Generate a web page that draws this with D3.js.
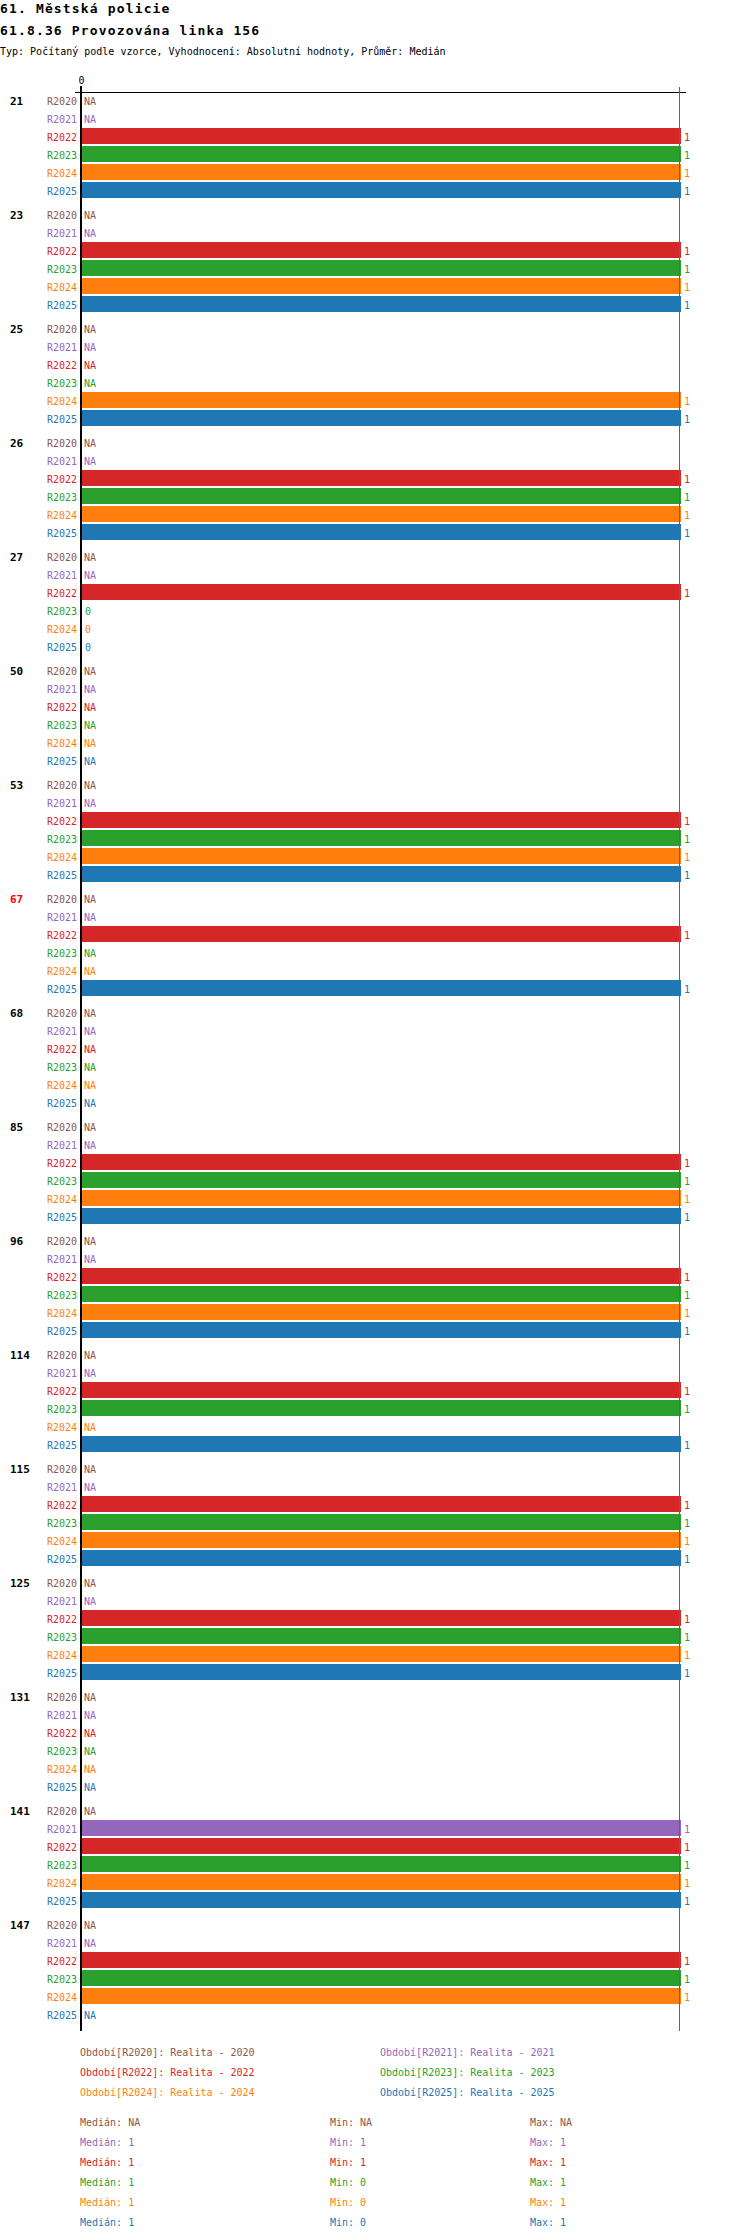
<!DOCTYPE html>
<html>
<head>
<meta charset="utf-8">
<script src="https://cdn.jsdelivr.net/npm/d3@7"></script>
<style>
  body { margin: 0; background: #fff; }
  text { font-family: "DejaVu Sans Mono", "Liberation Mono", monospace; }
  line, rect { shape-rendering: crispEdges; }
</style>
</head>
<body>
<div id="chart"></div>
<script>
// Provozována linka 156 — hodnoty po skupinách a obdobích

const skupiny = ['21', '23', '25', '26', '27', '50', '53', '67', '68', '85', '96', '114', '115', '125', '131', '141', '147'];
const zvyraznene = ['67'];

const obdobi = ['R2020', 'R2021', 'R2022', 'R2023', 'R2024', 'R2025'];
const nazvyObdobi = ['Realita - 2020', 'Realita - 2021', 'Realita - 2022', 'Realita - 2023', 'Realita - 2024', 'Realita - 2025'];
const barvy = ['#8c564b', '#9467bd', '#d62728', '#2ca02c', '#ff7f0e', '#1f77b4'];

// null = NA, pořadí jako skupiny
const R2020 = [null, null, null, null, null, null, null, null, null, null, null, null, null, null, null, null, null];
const R2021 = [null, null, null, null, null, null, null, null, null, null, null, null, null, null, null, 1, null];
const R2022 = [1, 1, null, 1, 1, null, 1, 1, null, 1, 1, 1, 1, 1, null, 1, 1];
const R2023 = [1, 1, null, 1, 0, null, 1, null, null, 1, 1, 1, 1, 1, null, 1, 1];
const R2024 = [1, 1, 1, 1, 0, null, 1, null, null, 1, 1, null, 1, 1, null, 1, 1];
const R2025 = [1, 1, 1, 1, 0, null, 1, 1, null, 1, 1, 1, 1, 1, null, 1, null];
const hodnoty = [R2020, R2021, R2022, R2023, R2024, R2025];

const tickHodnoty = [0];

const W = 750, H = 2240;
const svg = d3.select('#chart').append('svg')
    .attr('width', W)
    .attr('height', H);

// nadpisy
svg.append('text').attr('x', 0).attr('y', 12.5)
    .attr('font-size', '13px').attr('font-weight', 'bold').attr('letter-spacing', '1.15px')
    .text('61. Městská policie');
svg.append('text').attr('x', 0).attr('y', 35)
    .attr('font-size', '13px').attr('font-weight', 'bold').attr('letter-spacing', '1.15px')
    .text('61.8.36 Provozována linka 156');
svg.append('text').attr('x', 0).attr('y', 55)
    .attr('font-size', '10px')
    .text('Typ: Počítaný podle vzorce, Vyhodnocení: Absolutní hodnoty, Průměr: Medián');

// škály
const maxHodnota = d3.max(hodnoty.flat()) || 1;
const x = d3.scaleLinear().domain([0, maxHodnota]).range([81, 680]);
const yTop = 91, krokSkupiny = 114;
const yGroup = d3.scaleBand().domain(skupiny).range([yTop, yTop + skupiny.length * krokSkupiny]);
const yRow = d3.scaleBand().domain(obdobi).range([0, 108]).paddingInner(2 / 18).paddingOuter(1 / 18);
const barva = d3.scaleOrdinal().domain(obdobi).range(barvy);

const osaKonec = yGroup.range()[1] + 2;

// horní osa
const osa = svg.append('g')
    .attr('transform', `translate(0, 92)`)
    .call(d3.axisTop(x).tickValues(tickHodnoty).tickSize(6).tickPadding(2).tickFormat(d3.format('d')));
osa.select('.domain').remove();
osa.selectAll('text').attr('font-family', '"DejaVu Sans Mono", monospace').attr('font-size', '10px');
svg.append('line')
    .attr('x1', x.range()[0] - 6).attr('x2', x.range()[1] + 6)
    .attr('y1', 92.5).attr('y2', 92.5)
    .attr('stroke', '#000').attr('stroke-width', 1);

// řádky
const radky = [];
skupiny.forEach((s, gi) => {
    obdobi.forEach((o, oi) => {
        radky.push({ skupina: s, obdobi: o, hodnota: hodnoty[oi][gi] });
    });
});

const g = svg.selectAll('g.radek')
    .data(radky)
    .enter()
    .append('g')
    .attr('class', 'radek')
    .attr('transform', d => `translate(0, ${yGroup(d.skupina) + yRow(d.obdobi)})`);

g.filter(d => d.hodnota != null && d.hodnota > 0)
    .append('rect')
    .attr('x', x(0) + 1)
    .attr('y', 0)
    .attr('width', d => x(d.hodnota) - x(0))
    .attr('height', yRow.bandwidth())
    .attr('fill', d => barva(d.obdobi));

g.append('text')
    .attr('x', 77)
    .attr('y', yRow.bandwidth() / 2)
    .attr('dy', '0.45em')
    .attr('text-anchor', 'end')
    .attr('font-size', '10px')
    .attr('fill', d => barva(d.obdobi))
    .text(d => d.obdobi);

g.append('text')
    .attr('x', d => d.hodnota == null ? x(0) + 3 : x(d.hodnota) + 4)
    .attr('y', yRow.bandwidth() / 2)
    .attr('dy', '0.45em')
    .attr('font-size', '10px')
    .attr('fill', d => barva(d.obdobi))
    .text(d => d.hodnota == null ? 'NA' : d3.format('d')(d.hodnota));

// popisky skupin
svg.selectAll('text.skupina')
    .data(skupiny)
    .enter()
    .append('text')
    .attr('class', 'skupina')
    .attr('x', 10)
    .attr('y', d => yGroup(d) + yRow(obdobi[0]) + yRow.bandwidth() / 2)
    .attr('dy', '0.45em')
    .attr('font-size', '11px')
    .attr('font-weight', 'bold')
    .attr('fill', d => zvyraznene.includes(d) ? '#ff0000' : '#000')
    .text(d => d);

// statistiky
const statistiky = obdobi.map((o, i) => {
    const v = hodnoty[i].filter(h => h != null);
    return {
        obdobi: o,
        median: v.length ? d3.median(v) : null,
        min: v.length ? d3.min(v) : null,
        max: v.length ? d3.max(v) : null
    };
});

// čáry mediánů
svg.selectAll('line.median')
    .data(statistiky.filter(d => d.median != null))
    .enter()
    .append('line')
    .attr('class', 'median')
    .attr('x1', d => x(d.median) - 0.5)
    .attr('x2', d => x(d.median) - 0.5)
    .attr('y1', 87)
    .attr('y2', osaKonec)
    .attr('stroke', d => barva(d.obdobi))
    .attr('stroke-width', 1);

// levá osa
svg.append('line')
    .attr('x1', x(0)).attr('x2', x(0))
    .attr('y1', 86).attr('y2', osaKonec)
    .attr('stroke', '#000').attr('stroke-width', 2);

// legenda období
const fmt = v => v == null ? 'NA' : d3.format('d')(v);
svg.selectAll('text.legenda')
    .data(obdobi)
    .enter()
    .append('text')
    .attr('class', 'legenda')
    .attr('x', (d, i) => i % 2 === 0 ? 80 : 380)
    .attr('y', (d, i) => 2056 + Math.floor(i / 2) * 20)
    .attr('font-size', '10px')
    .attr('fill', d => barva(d))
    .text((d, i) => `Období[${d}]: ${nazvyObdobi[i]}`);

const stat = svg.selectAll('g.stat')
    .data(statistiky)
    .enter()
    .append('g')
    .attr('class', 'stat')
    .attr('transform', (d, i) => `translate(0, ${2126 + i * 20})`)
    .attr('fill', d => barva(d.obdobi))
    .attr('font-size', '10px');

stat.append('text').attr('x', 80).text(d => `Medián: ${fmt(d.median)}`);
stat.append('text').attr('x', 330).text(d => `Min: ${fmt(d.min)}`);
stat.append('text').attr('x', 530).text(d => `Max: ${fmt(d.max)}`);
</script>
</body>
</html>
